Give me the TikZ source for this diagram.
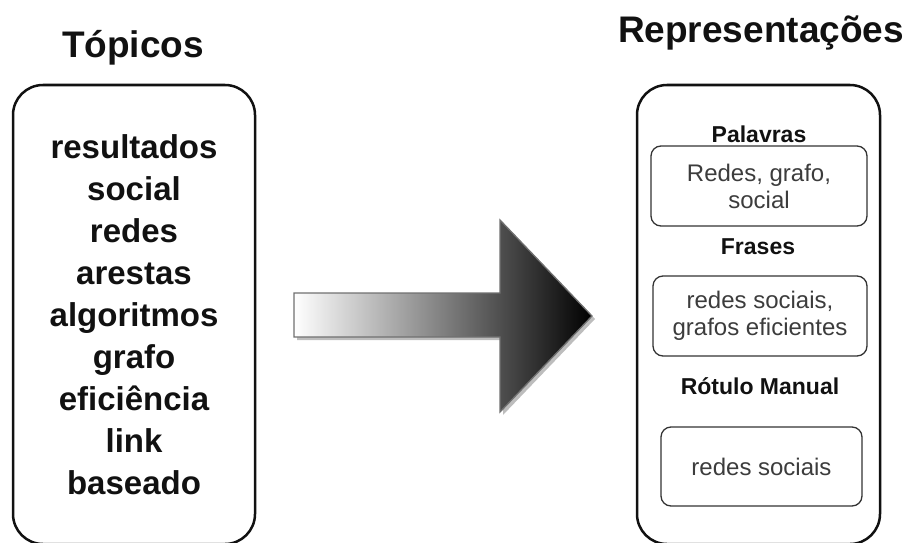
\documentclass[tikz,border=0pt]{standalone}
\usepackage{fontspec}
\setmainfont{Liberation Sans}
\usepackage{tikz}
\usetikzlibrary{shadows}
\definecolor{Ink}{HTML}{111111}
\definecolor{Soft}{HTML}{3C3C3C}
\definecolor{Edge}{HTML}{333333}
\definecolor{Rim}{HTML}{707070}
\definecolor{Shade}{HTML}{BDBDBD}

\begin{document}
\begin{tikzpicture}[
  x=1pt,y=-1pt,
  panel/.style={draw=Ink,line width=2.5pt,rounded corners=30pt,align=center},
  cell/.style={draw=Edge,line width=1.3pt,rounded corners=10pt,align=center,inner sep=0pt,text=Soft,font=\fontsize{24}{27}\selectfont},
  tag/.style={anchor=base,text=Ink,font=\bfseries\fontsize{23}{27}\selectfont},
  heading/.style={anchor=base,text=Ink,font=\bfseries\fontsize{37}{44}\selectfont},
  bigarrow/.style={draw=Rim,line width=1.3pt,left color=white,right color=black,drop shadow={shadow xshift=3pt,shadow yshift=-3pt,fill=Shade,opacity=1}}
]
\useasboundingbox (0,0) rectangle (913,543);
\node[heading] (ttop) at (133,58) {Tópicos};
\node[heading] (trep) at (761,43) {Representações};
\node[panel,minimum width=242pt,minimum height=459pt,text=Ink,font=\bfseries\fontsize{33}{42}\selectfont] (topics) at (134,314.5) {resultados\\social\\redes\\arestas\\algoritmos\\grafo\\eficiência\\link\\baseado};
\node[panel,minimum width=243pt,minimum height=459pt] (reps) at (758.5,314.5) {};
\node[tag] (lwords) at (759,142) {Palavras};
\node[cell,minimum width=216pt,minimum height=80pt] (words) at (759,186) {Redes, grafo,\\social};
\node[tag] (lphrases) at (758,254) {Frases};
\node[cell,minimum width=214pt,minimum height=80pt] (phrases) at (760,316) {redes sociais,\\grafos eficientes};
\node[tag] (lmanual) at (760,394) {Rótulo Manual};
\node[cell,minimum width=201pt,minimum height=79pt] (manual) at (761.5,466.5) {redes sociais};
\path[bigarrow] (294,293) -- (500,293) -- (500,220) -- (592,316) -- (500,412) -- (500,337) -- (294,337) -- cycle;
\end{tikzpicture}
\end{document}
